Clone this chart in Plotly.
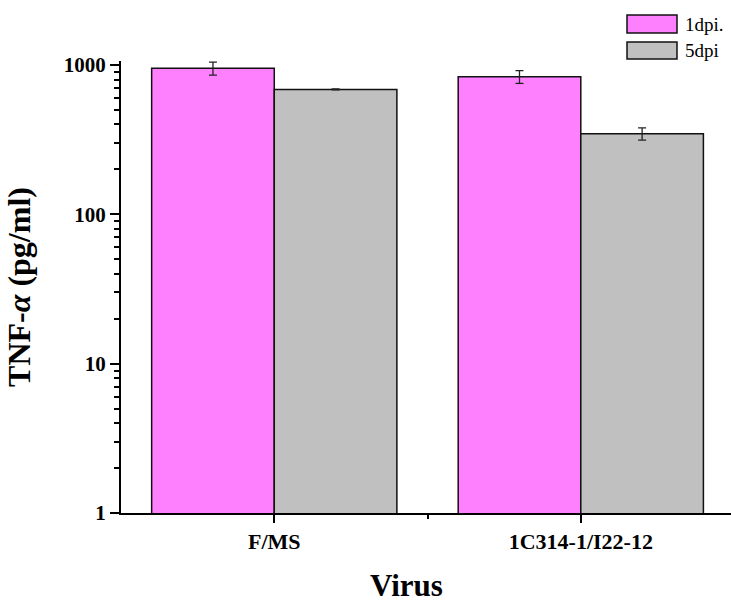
import plotly.graph_objects as go

categories = ["F/MS", "1C314-1/I22-12"]
series_names = ["1dpi.", "5dpi"]
values_1dpi = [950, 835]
errors_1dpi = [95, 81]
values_5dpi = [687, 347]
errors_5dpi = [6, 33]
colors = ["#FF80FF", "#C0C0C0"]
y_tickvals = [1, 10, 100, 1000]
y_ticktext = ["1", "10", "100", "1000"]

FONT = "Liberation Serif, Times New Roman, serif"

fig = go.Figure()
for name, vals, errs, col in [
    (series_names[0], values_1dpi, errors_1dpi, colors[0]),
    (series_names[1], values_5dpi, errors_5dpi, colors[1]),
]:
    fig.add_trace(go.Bar(
        x=categories, y=vals, name=name,
        marker=dict(color=col, line=dict(color="#111111", width=1.5)),
        error_y=dict(type="data", array=errs, visible=True, color="#222222",
                     thickness=1.3, width=4),
        showlegend=False,
    ))

# invisible helper trace on a secondary x axis to draw the minor tick between groups
fig.add_trace(go.Scatter(x=[0.5], y=[1], xaxis="x2", mode="markers",
                         marker=dict(opacity=0), showlegend=False, hoverinfo="skip"))

W, H = 731, 602
ml, mr, mt, mb = 121, 0, 61, 89
fig.update_layout(
    width=W, height=H,
    margin=dict(l=ml, r=mr, t=mt, b=mb),
    paper_bgcolor="white", plot_bgcolor="white",
    barmode="group", bargap=0.2, bargroupgap=0,
    font=dict(family=FONT, color="black"),
    xaxis=dict(
        type="category", range=[-0.5, 1.49],
        showline=True, linecolor="black", linewidth=2,
        ticks="outside", ticklen=8, tickwidth=2, tickcolor="black",
        tickfont=dict(family=FONT, size=22, color="black", weight="bold"),
        showgrid=False, zeroline=False,
    ),
    xaxis2=dict(
        overlaying="x", anchor="y", side="bottom", range=[-0.5, 1.49],
        tickvals=[0.5], ticks="outside", ticklen=5, tickwidth=2, tickcolor="black",
        showticklabels=False, showline=False, showgrid=False, zeroline=False,
    ),
    yaxis=dict(
        type="log", range=[0, 3.027],
        tickvals=y_tickvals, ticktext=y_ticktext,
        showline=True, linecolor="black", linewidth=2,
        ticks="outside", ticklen=9, tickwidth=2, tickcolor="black",
        tickfont=dict(family=FONT, size=21, color="black", weight="bold"),
        minor=dict(ticks="outside", ticklen=5, tickwidth=2, tickcolor="black",
                   dtick="D1", showgrid=False),
        showgrid=False, zeroline=False,
        title=dict(text="TNF-<i>α</i> (pg/ml)", standoff=24,
                   font=dict(family=FONT, size=32, color="black", weight="bold")),
    ),
)

# x-axis title
fig.add_annotation(text="Virus", xref="paper", yref="paper",
                   x=(406 - ml) / (W - ml - mr), y=-(585 - (H - mb)) / (H - mt - mb),
                   xanchor="center", yanchor="middle", showarrow=False,
                   font=dict(family=FONT, size=31, color="black", weight="bold"))

# legend drawn manually (large swatches)
plot_w = W - ml - mr
plot_h = H - mt - mb
def px_x(x):
    return (x - ml) / plot_w
def px_y(y):
    return (H - mb - y) / plot_h
legend_rows = [(15, 33), (42, 59)]
for (y0, y1), name, col in zip(legend_rows, series_names, colors):
    fig.add_shape(type="rect", xref="paper", yref="paper",
                  x0=px_x(627), x1=px_x(677), y0=px_y(y1), y1=px_y(y0),
                  fillcolor=col, line=dict(color="#111111", width=1.5))
    fig.add_annotation(text=name, xref="paper", yref="paper",
                       x=px_x(683), y=px_y((y0 + y1) / 2),
                       xanchor="left", yanchor="middle", showarrow=False,
                       font=dict(family=FONT, size=19, color="black"))

fig.write_html("out.html")
